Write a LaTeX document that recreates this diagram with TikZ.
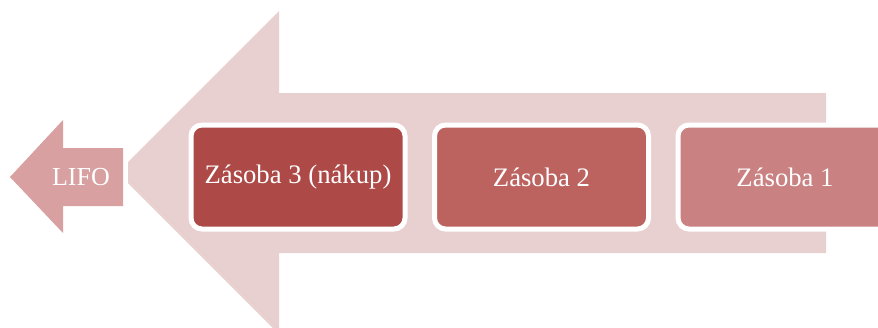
\documentclass[tikz,border=0pt]{standalone}
\usepackage{fontspec}
\setmainfont{Liberation Serif}
\definecolor{bigarrow}{HTML}{E8D0D1}
\definecolor{smallarrow}{HTML}{D8A0A0}
\definecolor{boxthree}{HTML}{AD4A48}
\definecolor{boxtwo}{HTML}{BC6360}
\definecolor{boxone}{HTML}{C98182}
\begin{document}
\begin{tikzpicture}[x=1pt,y=-1pt,
  stockbox/.style={draw=white, line width=5pt, rounded corners=11pt,
    minimum width=214pt, minimum height=104pt, inner sep=0pt,
    text=white, font=\fontsize{26.7}{30}\selectfont},
  arrowlabel/.style={text=white, font=\fontsize{26}{30}\selectfont, inner sep=0pt}]
\useasboundingbox (0,0) rectangle (878,327);
\clip (0,0) rectangle (878,327);
% large background arrow
\fill[bigarrow] (128,162) -- (279,11) -- (279,93) -- (826,93) -- (826,253)
  -- (279,253) -- (279,334) -- (128,183) -- cycle;
% small LIFO arrow
\fill[smallarrow] (10,177) -- (63,120) -- (63,148) -- (123,148) -- (123,206)
  -- (63,206) -- (63,233) -- cycle;
\node[arrowlabel] (lifo) at (81,177) {LIFO};
% stock boxes
\node[stockbox, fill=boxthree] (z3) at (298,177) {Zásoba 3 (nákup)};
\node[stockbox, fill=boxtwo] (z2) at (541.5,177) {Zásoba 2};
\node[stockbox, fill=boxone] (z1) at (785,177) {Zásoba 1};
\end{tikzpicture}
\end{document}
